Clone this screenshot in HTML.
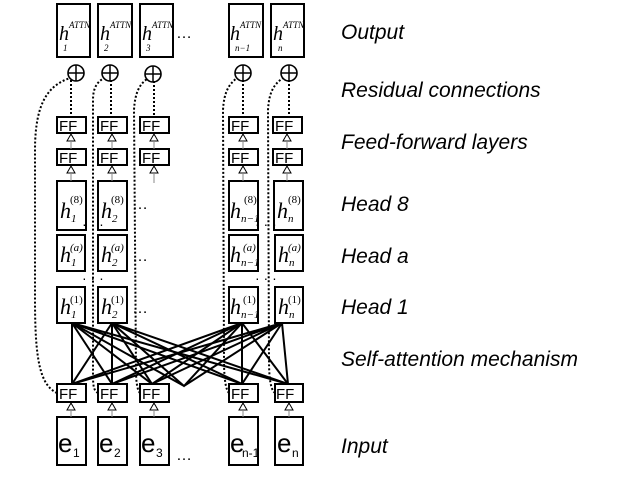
<!DOCTYPE html>
<html><head><meta charset="utf-8"><style>
body{margin:0;background:#fff}
.lab{font-family:"Liberation Sans",sans-serif;font-style:italic;font-size:21px}
.ff{font-family:"Liberation Sans",sans-serif;font-size:15px}
.ss{font-family:"Liberation Sans",sans-serif}
</style></head><body>
<svg width="623" height="474" viewBox="0 0 623 474" xmlns="http://www.w3.org/2000/svg" font-family="Liberation Serif, serif">
<g fill="#fff" stroke="#000" stroke-width="2">
<rect x="57" y="4" width="33" height="53"/><rect x="98" y="4" width="34" height="53"/><rect x="140" y="4" width="33" height="53"/>
<rect x="229" y="4" width="34" height="53"/><rect x="271" y="4" width="33" height="53"/>
<g stroke-width="1.6"><circle cx="76" cy="73" r="8"/><circle cx="110" cy="73" r="8"/><circle cx="153" cy="74" r="8"/><circle cx="243" cy="73" r="8"/><circle cx="289" cy="73" r="8"/></g>
<rect x="57" y="117" width="29" height="16"/><rect x="98" y="117" width="29" height="16"/><rect x="140" y="117" width="29" height="16"/><rect x="229" y="117" width="29" height="16"/><rect x="273" y="117" width="29" height="16"/>
<rect x="57" y="149" width="29" height="16"/><rect x="98" y="149" width="29" height="16"/><rect x="140" y="149" width="29" height="16"/><rect x="229" y="149" width="29" height="16"/><rect x="273" y="149" width="29" height="16"/>
<rect x="57" y="181" width="29" height="49"/><rect x="98" y="181" width="29" height="49"/><rect x="229" y="181" width="29" height="49"/><rect x="274" y="181" width="29" height="49"/>
<rect x="57" y="235" width="28" height="36"/><rect x="98" y="235" width="29" height="36"/><rect x="229" y="235" width="29" height="36"/><rect x="275" y="235" width="28" height="36"/>
<rect x="57" y="287" width="28" height="36"/><rect x="98" y="287" width="29" height="36"/><rect x="229" y="287" width="29" height="36"/><rect x="275" y="287" width="28" height="36"/>
<rect x="57" y="384" width="29" height="18"/><rect x="98" y="384" width="29" height="18"/><rect x="140" y="384" width="29" height="18"/><rect x="229" y="384" width="29" height="18"/><rect x="275" y="384" width="28" height="18"/>
<rect x="57" y="417" width="29" height="48"/><rect x="98" y="417" width="29" height="48"/><rect x="140" y="417" width="29" height="48"/><rect x="229" y="417" width="29" height="48"/><rect x="275" y="417" width="28" height="48"/>
</g>
<g stroke="#000" stroke-width="1.5">
<path d="M68 73h16M76 65v16M102 73h16M110 65v16M145 74h16M153 66v16M235 73h16M243 65v16M281 73h16M289 65v16"/>
</g>
<g stroke="#000" stroke-width="2" fill="none">
<path d="M72 323L72 384M72 323L112 384M72 323L152 384M72 323L242 384M72 323L288 384"/>
<path d="M112 323L72 384M112 323L112 384M112 323L152 384M112 323L242 384M112 323L288 384"/>
<path d="M242 323L72 384M242 323L112 384M242 323L152 384M242 323L242 384M242 323L288 384"/>
<path d="M282 323L72 384M282 323L112 384M282 323L152 384M282 323L242 384M282 323L288 384"/>
<path d="M72 323L184 386L282 323M112 323L184 386L242 323"/>
</g>
<g fill="#fff" stroke="#000" stroke-width="1">
<path d="M71 134l-4 7h8zM112 134l-4 7h8zM154 134l-4 7h8zM243 134l-4 7h8zM287 134l-4 7h8z"/>
<path d="M71 166l-4 7h8zM112 166l-4 7h8zM154 166l-4 7h8zM243 166l-4 7h8zM287 166l-4 7h8z"/>
<path d="M71 403l-4 7h8zM112 403l-4 7h8zM154 403l-4 7h8zM243 403l-4 7h8zM289 403l-4 7h8z"/>
</g>
<g stroke="#888" stroke-width="1"><path d="M71 141v8M112 141v8M154 141v8M243 141v8M287 141v8M71 173v8M112 173v8M154 173v10M243 173v8M287 173v8M71 410v7M112 410v7M154 410v7M243 410v7M289 410v7"/></g>
<g stroke="#000" stroke-width="2" fill="none" stroke-dasharray="2,2">
<path d="M57 393C40 385 35 360 35 300L35 150C35 100 50 85 70 78"/>
<path d="M98 393C93 390 93 385 93 370L93 100C93 88 97 82 104 78"/>
<path d="M140 393C137 390 136 380 136 370L134 110C135 92 140 84 147 79"/>
<path d="M229 393C226 390 224 380 224 360L223 110C224 92 229 84 237 78"/>
<path d="M275 393C271 390 269 380 269 360L268 110C269 92 274 84 283 78"/>
<path d="M71 80V117M111 80V117M154 81V117M243 80V117M289 80V117"/>
</g>
<g class="ss" font-size="16">
<text x="176" y="38">…</text><text x="132" y="209">…</text><text x="132" y="261">…</text><text x="132" y="313">…</text><text x="176" y="460">…</text>
<text x="82" y="229" font-size="14">· · ·</text><text x="82" y="283" font-size="14">· · ·</text><text x="255" y="229" font-size="14">· · ·</text><text x="255" y="283" font-size="14">· · ·</text>
</g>
<g font-style="italic" font-size="20">
<text x="59" y="40">h<tspan font-size="9" dy="-12">ATTN</tspan></text><text x="63" y="51" font-size="9">1</text>
<text x="100" y="40">h<tspan font-size="9" dy="-12">ATTN</tspan></text><text x="104" y="51" font-size="9">2</text>
<text x="142" y="40">h<tspan font-size="9" dy="-12">ATTN</tspan></text><text x="146" y="51" font-size="9">3</text>
<text x="230" y="40">h<tspan font-size="9" dy="-12">ATTN</tspan></text><text x="235" y="51" font-size="9">n−1</text>
<text x="273" y="40">h<tspan font-size="9" dy="-12">ATTN</tspan></text><text x="278" y="51" font-size="9">n</text>
</g>
<g font-style="italic" font-size="22">
<text x="60" y="218">h</text><text x="101" y="218">h</text><text x="230" y="218">h</text><text x="277" y="218">h</text>
<text x="60" y="262">h</text><text x="101" y="262">h</text><text x="230" y="262">h</text><text x="278" y="262">h</text>
<text x="60" y="314">h</text><text x="101" y="314">h</text><text x="230" y="314">h</text><text x="278" y="314">h</text>
</g>
<g font-size="11">
<text x="70" y="203">(8)</text><text x="111" y="203">(8)</text><text x="244" y="203">(8)</text><text x="288" y="203">(8)</text>
<text x="70" y="251" font-style="italic">(a)</text><text x="111" y="251" font-style="italic">(a)</text><text x="243" y="251" font-style="italic">(a)</text><text x="288" y="251" font-style="italic">(a)</text>
<text x="70" y="303">(1)</text><text x="111" y="303">(1)</text><text x="243" y="303">(1)</text><text x="288" y="303">(1)</text>
</g>
<g font-size="11" font-style="italic">
<text x="71" y="222">1</text><text x="112" y="222">2</text><text x="241" y="222">n−1</text><text x="288" y="222">n</text>
<text x="71" y="266">1</text><text x="112" y="266">2</text><text x="241" y="266">n−1</text><text x="289" y="266">n</text>
<text x="71" y="318">1</text><text x="112" y="318">2</text><text x="241" y="318">n−1</text><text x="289" y="318">n</text>
</g>
<g class="ff">
<text x="59" y="131">FF</text><text x="100" y="131">FF</text><text x="142" y="131">FF</text><text x="231" y="131">FF</text><text x="275" y="131">FF</text>
<text x="59" y="163">FF</text><text x="100" y="163">FF</text><text x="142" y="163">FF</text><text x="231" y="163">FF</text><text x="275" y="163">FF</text>
<text x="59" y="399">FF</text><text x="100" y="399">FF</text><text x="142" y="399">FF</text><text x="231" y="399">FF</text><text x="276" y="399">FF</text>
</g>
<g class="ss" font-size="26">
<text x="58" y="452">e</text><text x="99" y="452">e</text><text x="141" y="452">e</text><text x="230" y="452">e</text><text x="277" y="452">e</text>
</g>
<g class="ss" font-size="12">
<text x="73" y="457">1</text><text x="114" y="457">2</text><text x="156" y="457">3</text><text x="242" y="457">n-1</text><text x="292" y="457">n</text>
</g>
<text class="lab" x="341" y="39">Output</text>
<text class="lab" x="341" y="97">Residual connections</text>
<text class="lab" x="341" y="149">Feed-forward layers</text>
<text class="lab" x="341" y="211">Head 8</text>
<text class="lab" x="341" y="263">Head a</text>
<text class="lab" x="341" y="314">Head 1</text>
<text class="lab" x="341" y="366">Self-attention mechanism</text>
<text class="lab" x="341" y="453">Input</text>
</svg>
</body></html>
